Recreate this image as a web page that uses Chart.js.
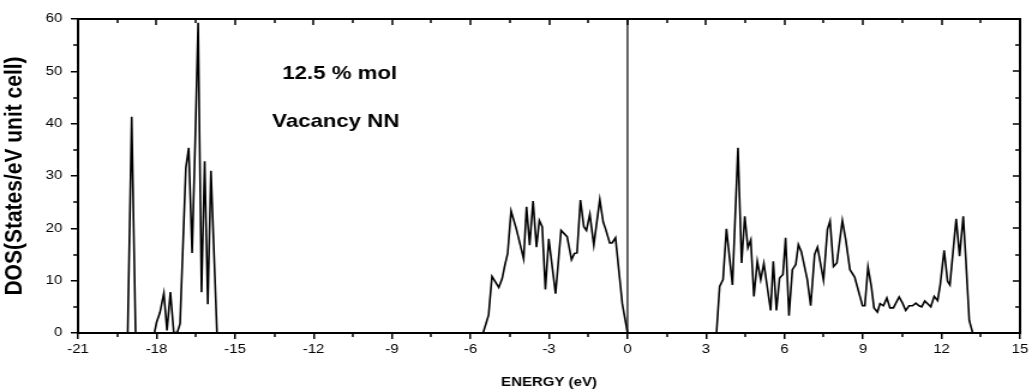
<!DOCTYPE html>
<html>
<head>
<meta charset="utf-8">
<script src="https://cdn.jsdelivr.net/npm/chart.js@4"></script>
<style>
  html, body { margin: 0; padding: 0; background: #fff; overflow: hidden; }
  /* the original figure is stretched sideways, so draw narrow and widen */
  #wrap { width: 861px; height: 390px; transform: scaleX(1.2); transform-origin: 0 0; }
</style>
</head>
<body>
<div id="wrap"><canvas id="dos"></canvas></div>
<script>
// energy (eV) and DOS values
const energy = [
  -21, -19.1, -18.95, -18.8, -18.08, -18.0, -17.87, -17.72, -17.6, -17.47,
  -17.34, -17.2, -17.1, -16.88, -16.77, -16.64, -16.52, -16.41, -16.28, -16.16,
  -16.04, -15.92, -15.69,
  -5.52, -5.31, -5.18, -4.92, -4.79, -4.69, -4.58, -4.45, -4.25, -3.97,
  -3.86, -3.74, -3.61, -3.48, -3.37, -3.26, -3.14, -3.01, -2.75, -2.54,
  -2.31, -2.14, -2.03, -1.93, -1.8, -1.67, -1.57, -1.44, -1.29, -1.06,
  -0.93, -0.84, -0.68, -0.59, -0.46, -0.2, 0,
  3.4, 3.52, 3.65, 3.78, 4.01, 4.22, 4.36, 4.48, 4.6, 4.71,
  4.83, 4.96, 5.09, 5.21, 5.47, 5.57, 5.69, 5.81, 5.94, 6.04,
  6.17, 6.3, 6.43, 6.53, 6.64, 6.87, 7.0, 7.15, 7.26, 7.49,
  7.64, 7.74, 7.87, 8.0, 8.21, 8.34, 8.5, 8.68, 8.98, 9.07,
  9.19, 9.32, 9.42, 9.55, 9.65, 9.78, 9.91, 10.03, 10.16, 10.38,
  10.51, 10.63, 10.76, 10.89, 11.02, 11.14, 11.24, 11.36, 11.59, 11.72,
  11.85, 11.95, 12.1, 12.23, 12.32, 12.46, 12.56, 12.69, 12.83, 12.93,
  13.06, 13.19, 15
];
const dos = [
  0, 0, 41.3, 0, 0, 2.0, 3.9, 7.6, 0.5, 7.8,
  0, 0.2, 1.8, 31.5, 35.4, 15.3, 37, 59.3, 7.8, 32.8,
  5.5, 31, 0,
  0, 3.4, 10.8, 8.7, 10.4, 12.9, 15.2, 23.3, 19.9, 14.2,
  24.1, 16.8, 25.2, 16.4, 21.5, 20.3, 8.3, 18.0, 7.5, 19.6,
  18.4, 14.0, 15.2, 15.3, 25.4, 20.3, 19.6, 22.7, 16.8, 25.5,
  21.2, 19.9, 17.2, 17.2, 18.2, 5.6, 0,
  0, 8.9, 10.2, 19.9, 9.2, 35.4, 13.4, 22.3, 16.3, 17.8,
  7.0, 13.7, 10.2, 13.3, 4.3, 13.7, 4.3, 10.5, 11.2, 18.2,
  3.3, 12.1, 13.1, 16.9, 15.6, 10.2, 5.2, 15.0, 16.4, 10.1,
  19.8, 21.4, 12.7, 13.4, 21.5, 17.8, 12.1, 10.7, 5.2, 5.2,
  12.6, 8.8, 4.8, 4.0, 5.6, 5.2, 6.7, 4.8, 4.8, 6.9,
  5.7, 4.3, 5.2, 5.2, 5.7, 5.2, 5.0, 6.1, 5.0, 7.0,
  6.2, 9.2, 15.8, 9.9, 9.2, 16.6, 21.8, 14.7, 22.3, 14.0,
  2.4, 0, 0
];

const xMin = -21, xMax = 15, xStep = 3;
const yMin = 0, yMax = 60, yStep = 10;
const notes = ['12.5 % mol', 'Vacancy NN'];

const font = 'Liberation Sans, Arial, sans-serif';
const frameLine = { display: true, color: '#000', width: 2 };

// minor ticks, inward ticks on top/right, and the two text notes
const extras = {
  id: 'extras',
  afterDraw(chart) {
    const ctx = chart.ctx;
    const a = chart.chartArea;
    const sx = chart.scales.x, sy = chart.scales.y;
    ctx.save();
    ctx.fillStyle = '#000';
    for (let v = xMin; v <= xMax + 1e-6; v += xStep / 2) {
      const px = Math.round(sx.getPixelForValue(v));
      const major = Math.abs(v % xStep) < 1e-6;
      if (!major) ctx.fillRect(px - 0.75, a.bottom, 1.5, 4);
      ctx.fillRect(px - 0.75, a.top, 1.5, major ? 6 : 4);
    }
    for (let v = yMin; v <= yMax + 1e-6; v += yStep / 2) {
      const py = Math.round(sy.getPixelForValue(v));
      const major = Math.abs(v % yStep) < 1e-6;
      if (!major) ctx.fillRect(a.left - 4, py - 0.75, 4, 1.5);
      ctx.fillRect(a.right - (major ? 6 : 4), py - 0.75, major ? 6 : 4, 1.5);
    }
    ctx.font = 'bold 18.5px ' + font;
    ctx.textAlign = 'center';
    ctx.textBaseline = 'middle';
    ctx.fillText(notes[0], sx.getPixelForValue(-11.0), sy.getPixelForValue(49.5));
    ctx.fillText(notes[1], sx.getPixelForValue(-11.15), sy.getPixelForValue(40.3));
    ctx.restore();
  }
};

const points = energy.map((e, i) => ({ x: e, y: dos[i] }));

new Chart(document.getElementById('dos'), {
  type: 'line',
  data: {
    datasets: [
      {
        data: points,
        borderColor: '#000',
        borderWidth: 1.6,
        pointRadius: 0,
        tension: 0,
        fill: false
      },
      {
        // Fermi level marker
        data: [{ x: 0, y: yMin }, { x: 0, y: yMax }],
        borderColor: '#000',
        borderWidth: 1.2,
        pointRadius: 0,
        fill: false
      }
    ]
  },
  options: {
    responsive: true,
    maintainAspectRatio: false,
    animation: false,
    layout: { padding: { top: 19, right: 11, left: 0, bottom: 0 } },
    plugins: { legend: { display: false }, tooltip: { enabled: false } },
    scales: {
      x: {
        type: 'linear',
        min: xMin,
        max: xMax,
        grid: { drawOnChartArea: false, drawTicks: true, tickLength: 6, color: '#000', lineWidth: 1.5 },
        border: frameLine,
        ticks: {
          stepSize: xStep,
          color: '#000',
          padding: 3,
          maxRotation: 0,
          font: { family: font, size: 12.5 }
        },
        title: {
          display: true,
          text: 'ENERGY (eV)',
          color: '#000',
          padding: { top: 4, bottom: 0 },
          font: { family: font, size: 12.5, weight: 'bold' }
        },
        afterFit(scale) { scale.height = 57; }
      },
      x2: {
        type: 'linear',
        position: 'top',
        min: xMin,
        max: xMax,
        grid: { display: false },
        border: frameLine,
        ticks: { display: false },
        afterFit(scale) { scale.height = 0; }
      },
      y: {
        min: yMin,
        max: yMax,
        grid: { drawOnChartArea: false, drawTicks: true, tickLength: 6, color: '#000', lineWidth: 1.5 },
        border: frameLine,
        ticks: {
          stepSize: yStep,
          color: '#000',
          padding: 7,
          font: { family: font, size: 12.5 }
        },
        title: {
          display: true,
          text: 'DOS(States/eV unit cell)',
          color: '#000',
          padding: { top: 0, bottom: 4 },
          font: { family: font, size: 21, weight: 'bold' }
        },
        afterFit(scale) { scale.width = 65; }
      },
      y2: {
        position: 'right',
        min: yMin,
        max: yMax,
        grid: { display: false },
        border: frameLine,
        ticks: { display: false },
        afterFit(scale) { scale.width = 0; }
      }
    }
  },
  plugins: [extras]
});
</script>
</body>
</html>
